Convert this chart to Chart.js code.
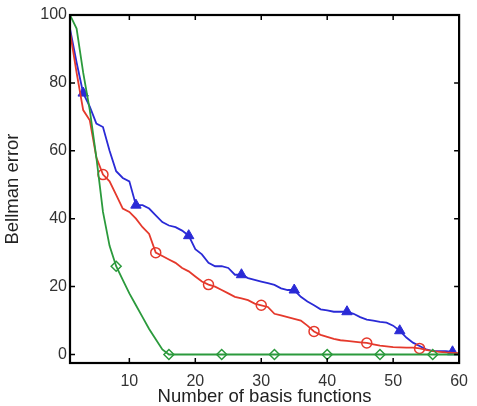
<!DOCTYPE html>
<html>
<head>
<meta charset="utf-8">
<script src="https://cdn.jsdelivr.net/npm/chart.js@4.4.1/dist/chart.umd.min.js"></script>
<style>
  html, body { margin: 0; padding: 0; background: #fff; }
  #wrap { width: 477px; height: 406px; }
</style>
</head>
<body>
<div id="wrap"><canvas id="bellmanChart" width="477" height="406"></canvas></div>
<script>
// Eixo x: número de funções de base
const basisCounts = [1, 2, 3, 4, 5, 6, 7, 8, 9, 10, 11, 12, 13, 14, 15, 16, 17, 18, 19, 20,
  21, 22, 23, 24, 25, 26, 27, 28, 29, 30, 31, 32, 33, 34, 35, 36, 37, 38, 39, 40,
  41, 42, 43, 44, 45, 46, 47, 48, 49, 50, 51, 52, 53, 54, 55, 56, 57, 58, 59, 60];

// Séries (erro de Bellman)
const blueError = [96, 86, 77, 73, 68, 67, 60, 54, 52, 51, 44, 44, 43, 41, 39, 38, 37.5, 36.5, 35, 31,
  29.5, 27, 26, 26, 25.5, 23.5, 23.5, 22.5, 22, 21.5, 21, 20.5, 19.5, 19, 19, 17, 15.6, 14.5, 13.3, 13,
  12.6, 12.6, 12.6, 12, 11, 10.3, 10, 9.6, 9.4, 8.5, 7, 5, 3.5, 2.5, 1.5, 1, 1, 1, 0.8, 0];

const redError = [95, 83, 72, 69, 58, 53, 51, 47, 43, 42, 40, 37.5, 35.5, 30, 29, 28, 27, 25.5, 24.5, 23,
  21.5, 20.6, 20, 19, 18, 17, 16.5, 16, 15, 14.5, 14, 12, 11.5, 11, 10.5, 10, 8.5, 6.8, 5.8, 5.2,
  4.6, 4.2, 4, 3.8, 3.6, 3.4, 3, 2.6, 2.4, 2.2, 2.1, 2, 2, 1.8, 1.4, 1, 0.8, 0.6, 0.5, 0.4];

const greenError = [100, 96, 83, 72, 58, 42, 32, 26, 22, 18, 14.5, 11, 7.5, 4.5, 1.5, 0, 0, 0, 0, 0,
  0, 0, 0, 0, 0, 0, 0, 0, 0, 0, 0, 0, 0, 0, 0, 0, 0, 0, 0, 0,
  0, 0, 0, 0, 0, 0, 0, 0, 0, 0, 0, 0, 0, 0, 0, 0, 0, 0, 0, 0];

// Marcas dos eixos
const xTicks = [10, 20, 30, 40, 50, 60];
const yTicks = [0, 20, 40, 60, 80, 100];

const toPoints = (values) => values.map((v, i) => ({ x: basisCounts[i], y: v }));

// Marcador a cada 8 pontos
const markerEvery = (offset, size) => (ctx) => (ctx.dataIndex % 8 === offset ? size : 0);

// Caixa estilo MATLAB com marcas para dentro
const boxPlugin = {
  id: "matlabBox",
  afterDatasetsDraw(chart) {
    const { ctx, chartArea: a, scales } = chart;
    ctx.save();
    ctx.strokeStyle = "#000";
    ctx.lineWidth = 1.5;
    const tl = 5;
    ctx.beginPath();
    xTicks.forEach((t) => {
      const px = scales.x.getPixelForValue(t);
      ctx.moveTo(px, a.bottom); ctx.lineTo(px, a.bottom - tl);
      ctx.moveTo(px, a.top); ctx.lineTo(px, a.top + tl);
    });
    yTicks.forEach((t) => {
      const py = scales.y.getPixelForValue(t);
      ctx.moveTo(a.left, py); ctx.lineTo(a.left + tl, py);
      ctx.moveTo(a.right, py); ctx.lineTo(a.right - tl, py);
    });
    ctx.stroke();
    ctx.lineWidth = 2.2;
    ctx.strokeRect(a.left, a.top, a.right - a.left, a.bottom - a.top);
    ctx.restore();
  },
};

const tickFont = { family: "'Liberation Sans', Arial, sans-serif", size: 16 };
const titleFont = { family: "'Liberation Sans', Arial, sans-serif", size: 18.5, lineHeight: 1 };

const ctx = document.getElementById("bellmanChart").getContext("2d");
const bellmanChart = new Chart(ctx, {
  type: "line",
  data: {
    datasets: [
      {
        label: "green",
        data: toPoints(greenError),
        borderColor: "#2b9a3c",
        borderWidth: 1.8,
        pointStyle: "rectRot",
        pointRadius: markerEvery(7, 5),
        pointBorderColor: "#2b9a3c",
        pointBackgroundColor: "rgba(255,255,255,0)",
        pointBorderWidth: 1.5,
        tension: 0,
      },
      {
        label: "red",
        data: toPoints(redError),
        borderColor: "#e5392c",
        borderWidth: 1.8,
        pointStyle: "circle",
        pointRadius: markerEvery(5, 5),
        pointBorderColor: "#e5392c",
        pointBackgroundColor: "rgba(255,255,255,0)",
        pointBorderWidth: 1.5,
        tension: 0,
      },
      {
        label: "blue",
        data: toPoints(blueError),
        borderColor: "#2a2ad6",
        borderWidth: 1.8,
        pointStyle: "triangle",
        pointRadius: markerEvery(2, 6),
        pointBorderColor: "#2a2ad6",
        pointBackgroundColor: "#2a2ad6",
        pointBorderWidth: 1,
        tension: 0,
      },
    ],
  },
  options: {
    responsive: false,
    animation: false,
    layout: { padding: { top: 15, right: 11, left: 0, bottom: 0 } },
    plugins: { legend: { display: false }, tooltip: { enabled: false } },
    scales: {
      x: {
        type: "linear",
        min: 1,
        max: 60,
        afterBuildTicks: (scale) => { scale.ticks = xTicks.map((v) => ({ value: v })); },
        afterFit: (scale) => { scale.height = 43; },
        grid: { display: false, drawTicks: false },
        border: { display: false },
        ticks: { font: tickFont, color: "#333", padding: 9, maxRotation: 0 },
        title: {
          display: true,
          text: "Number of basis functions",
          font: titleFont,
          color: "#222",
          padding: { top: 0, bottom: 0 },
        },
      },
      y: {
        min: -2.5,
        max: 100,
        afterBuildTicks: (scale) => { scale.ticks = yTicks.map((v) => ({ value: v })); },
        afterFit: (scale) => { scale.width = 70; },
        grid: { display: false, drawTicks: false },
        border: { display: false },
        ticks: { font: tickFont, color: "#333", padding: 3 },
        title: {
          display: true,
          text: "Bellman error",
          font: titleFont,
          color: "#222",
          padding: { top: 4, bottom: 0 },
        },
      },
    },
  },
  plugins: [boxPlugin],
});
</script>
</body>
</html>
